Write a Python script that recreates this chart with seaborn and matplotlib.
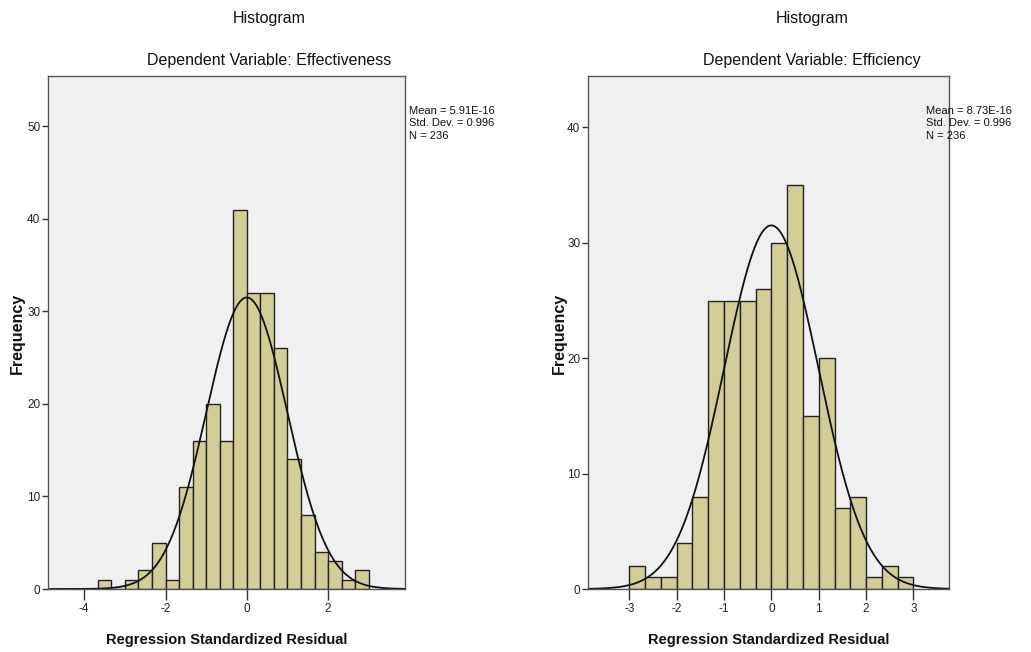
import numpy as np
import pandas as pd
import matplotlib
matplotlib.use("Agg")
import matplotlib.pyplot as plt
import seaborn as sns

# ---- data ----
eff_edges = [-11/3 + k/3 for k in range(21)]
eff_counts = [1, 0, 1, 2, 5, 1, 11, 16, 20, 16, 41, 32, 32, 26, 14, 8, 4, 3, 1, 2]
eff_mean, eff_sd, eff_n = 5.91e-16, 0.996, 236

fic_edges = [-3 + k/3 for k in range(19)]
fic_counts = [2, 1, 1, 4, 8, 25, 25, 25, 26, 30, 35, 15, 20, 7, 8, 1, 2, 1]
fic_mean, fic_sd, fic_n = 8.73e-16, 0.996, 236

titles = ["Dependent Variable: Effectiveness", "Dependent Variable: Efficiency"]
stats_text = ["Mean = 5.91E-16\nStd. Dev. = 0.996\nN = 236",
              "Mean = 8.73E-16\nStd. Dev. = 0.996\nN = 236"]
xticks_list = [[-4, -2, 0, 2], [-3, -2, -1, 0, 1, 2, 3]]
yticks_list = [[0, 10, 20, 30, 40, 50], [0, 10, 20, 30, 40]]
xlims = [(-4.89, 3.89), (-3.87, 3.75)]
ylims = [(0, 55.5), (0, 44.5)]

sns.set_style("white")
plt.rcParams['font.family'] = ['Liberation Sans Narrow', 'Liberation Sans', 'DejaVu Sans']
plt.rcParams['axes.unicode_minus'] = False

W, H = 1031, 652
fig = plt.figure(figsize=(W/100, H/100), dpi=100)

ax_px = [(48, 405), (588, 949)]
top_px, bot_px = 75.5, 589
bar_color = "#D3CE97"
bg = "#F0F0F0"

datasets = [(eff_edges, eff_counts, eff_mean, eff_sd, eff_n),
            (fic_edges, fic_counts, fic_mean, fic_sd, fic_n)]

title_cx = [269, 812]
stats_x = [409, 926]
freq_x = [17, 559]

for i, (edges, counts, mu, sd, n) in enumerate(datasets):
    x0, x1 = ax_px[i]
    ax = fig.add_axes([x0/W, 1 - bot_px/H, (x1-x0)/W, (bot_px-top_px)/H])
    ax.set_facecolor(bg)
    e = np.array(edges)
    centers = (e[:-1] + e[1:]) / 2
    df = pd.DataFrame({"x": centers, "w": np.array(counts, dtype=float)})
    sns.histplot(data=df, x="x", weights="w", bins=list(edges), stat="count",
                 color=bar_color, edgecolor="#222222", linewidth=1.0,
                 alpha=1.0, ax=ax)
    # normal curve
    bw = e[1] - e[0]
    xs = np.linspace(xlims[i][0], xlims[i][1], 400)
    ys = n * bw * np.exp(-0.5 * ((xs - mu) / sd) ** 2) / (sd * np.sqrt(2 * np.pi))
    sns.lineplot(x=xs, y=ys, color="#111111", linewidth=1.3, ax=ax)
    ax.set_xlim(*xlims[i])
    ax.set_ylim(*ylims[i])
    ax.set_xticks(xticks_list[i])
    ax.set_yticks(yticks_list[i])
    ax.set_xlabel("")
    ax.set_ylabel("")
    ax.tick_params(axis="x", which="major", labelsize=8.5, direction="out",
                   length=8, width=1.0, color="#333333", labelcolor="#222222",
                   bottom=True, pad=2)
    ax.tick_params(axis="y", which="major", labelsize=8.5, direction="out",
                   length=4, width=1.0, color="#333333", labelcolor="#222222",
                   left=True, pad=1.5)
    for sp in ax.spines.values():
        sp.set_color("#555555")
        sp.set_linewidth(1.0)
    # titles
    fig.text(title_cx[i]/W, 1 - 18/H, "Histogram", ha="center", va="center",
             fontsize=11.5, color="#111111")
    fig.text(title_cx[i]/W, 1 - 60/H, titles[i], ha="center", va="center",
             fontsize=11.5, color="#111111")
    # x label
    fig.text(((x0 + x1) / 2)/W, 1 - 640/H, "Regression Standardized Residual",
             ha="center", va="center", fontsize=10.5, fontweight="bold",
             color="#111111")
    # y label
    fig.text(freq_x[i]/W, 1 - 333/H, "Frequency", ha="center", va="center",
             rotation=90, fontsize=11.5, fontweight="bold", color="#111111",
             family=['Liberation Sans', 'DejaVu Sans'])
    # stats
    fig.text(stats_x[i]/W, 1 - 106/H, stats_text[i], ha="left", va="top",
             fontsize=8, color="#111111", linespacing=1.3)

fig.savefig("out.png", dpi=100)
